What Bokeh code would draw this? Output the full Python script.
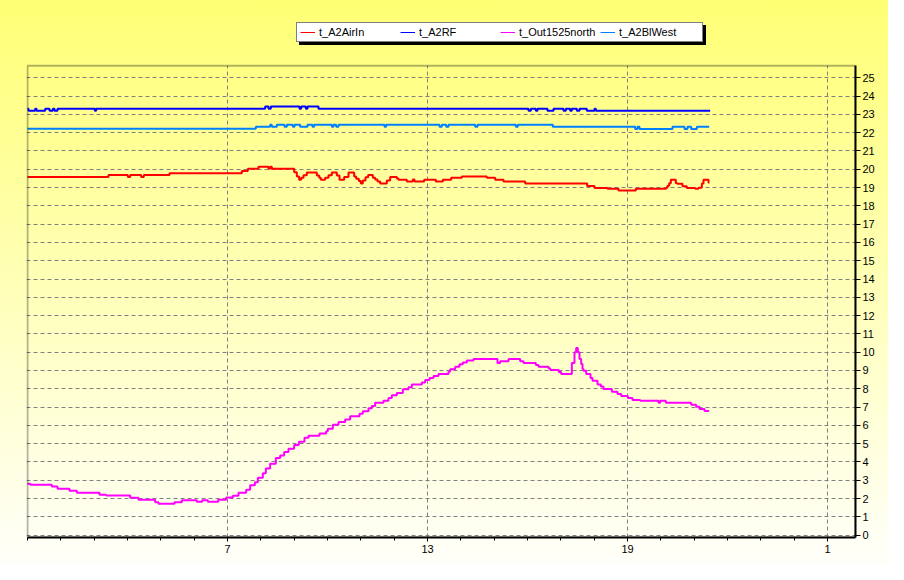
from bokeh.plotting import figure
from bokeh.models import (Range1d, FixedTicker, Legend, LegendItem, BoxAnnotation)
from bokeh.embed import file_html
from bokeh.resources import INLINE

# ---------------- data (hours of day, °C) ----------------
airin_t = [1.00, 3.43, 4.01, 4.08, 4.41, 4.49, 5.26, 7.43, 7.61, 7.93, 8.23, 8.28, 8.33,
           9.00, 9.08, 9.15, 9.21, 9.28, 9.38, 9.68, 9.75, 9.80, 9.93, 10.03, 10.13, 10.28,
           10.36, 10.50, 10.63, 10.80, 10.86, 10.94, 11.00, 11.06, 11.14, 11.22, 11.36, 11.43,
           11.50, 11.58, 11.78, 11.88, 12.08, 12.13, 12.38, 12.56, 12.61, 12.90, 13.25, 13.46,
           13.71, 14.03, 14.78, 15.03, 15.28, 15.93, 17.79, 18.01, 18.40, 18.73, 19.25, 20.16,
           20.20, 20.25, 20.30, 20.45, 20.50, 20.65, 20.78, 21.03, 21.13, 21.23, 21.28, 21.43,
           21.46]
airin_v = [19.58, 19.69, 19.58, 19.69, 19.58, 19.69, 19.78, 19.91, 20.02, 20.13, 20.02, 20.13, 20.02,
           19.84, 19.60, 19.42, 19.53, 19.67, 19.82, 19.66, 19.53, 19.42, 19.53, 19.67, 19.82, 19.66,
           19.42, 19.58, 19.82, 19.60, 19.48, 19.35, 19.22, 19.38, 19.56, 19.69, 19.53, 19.44,
           19.33, 19.22, 19.38, 19.58, 19.49, 19.42, 19.33, 19.44, 19.33, 19.42, 19.33, 19.42,
           19.53, 19.60, 19.53, 19.42, 19.33, 19.22, 19.09, 18.98, 18.93, 18.84, 18.93, 18.99,
           19.10, 19.24, 19.42, 19.24, 19.20, 19.07, 18.98, 18.93, 18.99, 19.22, 19.42, 19.27,
           19.27]

rf_t = [1.00, 1.03, 1.23, 1.27, 1.53, 1.66, 1.76, 1.81, 1.90, 3.02, 3.06, 8.13, 8.23, 8.30,
        9.16, 9.21, 9.35, 9.40, 9.73, 16.03, 16.10, 16.25, 16.30, 16.60, 16.78, 17.08, 17.15,
        17.28, 17.33, 17.48, 17.56, 17.78, 18.01, 18.05, 21.48]
rf_v = [23.30, 23.19, 23.30, 23.19, 23.30, 23.19, 23.30, 23.19, 23.30, 23.19, 23.30, 23.43, 23.30, 23.43,
        23.30, 23.43, 23.30, 23.43, 23.30, 23.19, 23.30, 23.19, 23.30, 23.19, 23.30, 23.19, 23.30,
        23.19, 23.30, 23.19, 23.30, 23.19, 23.30, 23.19, 23.19]

out_t = [1.00, 1.08, 1.73, 1.90, 2.26, 2.48, 3.16, 3.36, 4.08, 4.33, 4.83, 4.93, 5.41, 5.63,
         6.08, 6.24, 6.41, 6.72, 6.96, 7.16, 7.33, 7.56, 7.68, 7.82, 7.91, 8.06, 8.15, 8.28,
         8.45, 8.58, 8.70, 8.83, 9.00, 9.14, 9.31, 9.43, 9.76, 9.96, 10.01, 10.16, 10.33, 10.53,
         10.68, 10.96, 11.06, 11.23, 11.33, 11.43, 11.68, 11.83, 11.93, 12.08, 12.26, 12.43,
         12.53, 12.83, 12.93, 13.06, 13.18, 13.33, 13.63, 13.68, 13.83, 13.96, 14.06, 14.18,
         14.38, 15.10, 15.18, 15.43, 15.78, 15.88, 16.25, 16.33, 16.63, 16.68, 16.94, 17.01,
         17.33, 17.41, 17.46, 17.51, 17.56, 17.61, 17.65, 17.68, 17.76, 17.89, 17.95, 18.10,
         18.20, 18.28, 18.53, 18.70, 18.81, 19.01, 19.15, 19.38, 19.93, 19.98, 20.15, 20.91,
         21.06, 21.16, 21.31, 21.45]
out_v = [2.81, 2.75, 2.66, 2.53, 2.42, 2.31, 2.21, 2.17, 2.04, 1.93, 1.80, 1.71, 1.80, 1.91,
         1.82, 1.91, 1.82, 1.93, 2.06, 2.15, 2.31, 2.48, 2.73, 2.89, 3.13, 3.38, 3.64, 3.90,
         4.22, 4.35, 4.55, 4.72, 4.93, 5.11, 5.32, 5.43, 5.55, 5.68, 5.82, 6.03, 6.19, 6.32,
         6.50, 6.63, 6.77, 6.93, 7.06, 7.24, 7.35, 7.50, 7.64, 7.77, 7.97, 8.08,
         8.23, 8.34, 8.48, 8.59, 8.70, 8.81, 8.94, 9.06, 9.21, 9.34, 9.44, 9.55,
         9.63, 9.41, 9.50, 9.63, 9.50, 9.41, 9.30, 9.21, 9.12, 9.03, 8.92, 8.81,
         9.41, 9.99, 10.23, 9.99, 9.63, 9.36, 9.08, 8.99, 8.81, 8.59, 8.44, 8.23,
         8.12, 7.99, 7.84, 7.72, 7.61, 7.50, 7.39, 7.34, 7.24, 7.34, 7.24, 7.13,
         7.02, 6.90, 6.79, 6.79]

blwest_t = [1.00, 7.85, 8.28, 8.33, 8.48, 8.71, 8.78, 8.96, 9.01, 9.18, 9.40, 9.55, 9.60, 10.13,
            10.18, 10.26, 10.33, 11.71, 11.76, 13.36, 13.43, 13.56, 13.63, 14.43, 14.50, 15.65,
            15.71, 16.76, 19.23, 19.30, 19.36, 20.35, 20.71, 20.80, 20.91, 21.08, 21.45]
blwest_v = [22.21, 22.32, 22.43, 22.32, 22.43, 22.32, 22.43, 22.32, 22.43, 22.32, 22.43, 22.32, 22.43, 22.32,
            22.43, 22.32, 22.43, 22.32, 22.43, 22.32, 22.43, 22.32, 22.43, 22.32, 22.43, 22.32,
            22.43, 22.32, 22.20, 22.32, 22.20, 22.32, 22.20, 22.32, 22.20, 22.32, 22.32]

series_names = ["t_A2AirIn", "t_A2RF", "t_Out1525north", "t_A2BlWest"]
series_colors = ["#FF0000", "#0000FF", "#FF00FF", "#0080FF"]

x_major = [7, 13, 19, 25]
x_labels = {7: "7", 13: "13", 19: "19", 25: "1"}
y_ticks = list(range(0, 26))

# plot-area extent (data units) and the extra room above it that holds the legend
X0, X1 = 1.0, 25.84
Y0, Y1 = -0.13, 25.66
X_START = 0.97
Y_END = 28.13

FONT = "Liberation Sans"

p = figure(width=888, height=564, output_backend="svg", toolbar_location=None,
           x_range=Range1d(X_START, X1), y_range=Range1d(Y0, Y_END),
           y_axis_location="right",
           min_border_left=26, min_border_right=33, min_border_top=20, min_border_bottom=27)
p.styles = {"background": "linear-gradient(to bottom, #FFFF74 0%, #FFFFFA 100%)"}
p.border_fill_alpha = 0
p.background_fill_alpha = 0
p.outline_line_color = None

# grid: horizontal via ygrid, vertical drawn only over the plot area
p.xgrid.visible = False
yg = p.ygrid[0]
yg.grid_line_color = "#808080"
yg.grid_line_dash = "4 3"
yg.grid_line_width = 1
p.segment(x0=x_major, y0=[Y0] * len(x_major), x1=x_major, y1=[Y1] * len(x_major),
          line_color="#808080", line_dash="4 3", line_width=1)

# frame of the plot area
p.add_layout(BoxAnnotation(left=X0, right=X1, bottom=Y0, top=Y1, fill_alpha=0,
                           line_color="black", line_width=2, level="overlay"))

r_out = p.step(out_t, out_v, mode="after", line_color=series_colors[2], line_width=2)
r_air = p.step(airin_t, airin_v, mode="after", line_color=series_colors[0], line_width=2)
r_bw = p.step(blwest_t, blwest_v, mode="after", line_color=series_colors[3], line_width=2)
r_rf = p.step(rf_t, rf_v, mode="after", line_color=series_colors[1], line_width=2)

# thin line samples for the legend (a single undefined point, nothing drawn in the plot)
nan = float("nan")
legend_glyphs = [p.line(x=[nan], y=[nan], line_color=c, line_width=1) for c in series_colors]

# axes
xa = p.xaxis[0]
xa.ticker = FixedTicker(ticks=x_major, minor_ticks=list(range(1, 26)))
xa.major_label_overrides = x_labels
xa.major_label_text_font = FONT
xa.major_label_text_font_size = "11px"
xa.major_label_text_color = "black"
xa.major_tick_out = 4
xa.major_tick_in = 0
xa.minor_tick_out = 3
xa.minor_tick_in = 0
xa.major_label_standoff = 3
xa.axis_line_width = 2
xa.axis_line_color = "black"
xa.bounds = (X0, X1)

ya = p.yaxis[0]
ya.ticker = FixedTicker(ticks=y_ticks, minor_ticks=[])
ya.major_label_text_font = FONT
ya.major_label_text_font_size = "11px"
ya.major_label_text_color = "black"
ya.major_tick_out = 5
ya.major_tick_in = 0
ya.minor_tick_out = 0
ya.major_label_standoff = 2
ya.axis_line_width = 2
ya.axis_line_color = "black"
ya.bounds = (Y0, Y1)


def make_legend(loc, shadow=False):
    labels = [" "] * len(series_names) if shadow else series_names
    items = [LegendItem(label=n, renderers=[r]) for n, r in zip(labels, legend_glyphs)]
    lg = Legend(items=items, orientation="horizontal", location=loc,
                label_text_font=FONT, label_text_font_size="11px",
                label_text_color="black", label_width=80, label_height=12,
                glyph_width=15, glyph_height=12, label_standoff=4, spacing=1,
                padding=3, margin=0,
                border_line_color="black", border_line_width=1,
                background_fill_color="black" if shadow else "white",
                background_fill_alpha=1.0)
    return lg


p.add_layout(make_legend((273, 492), shadow=True), "center")
p.add_layout(make_legend((270, 495)), "center")

open("out.html", "w").write(file_html(p, INLINE))
